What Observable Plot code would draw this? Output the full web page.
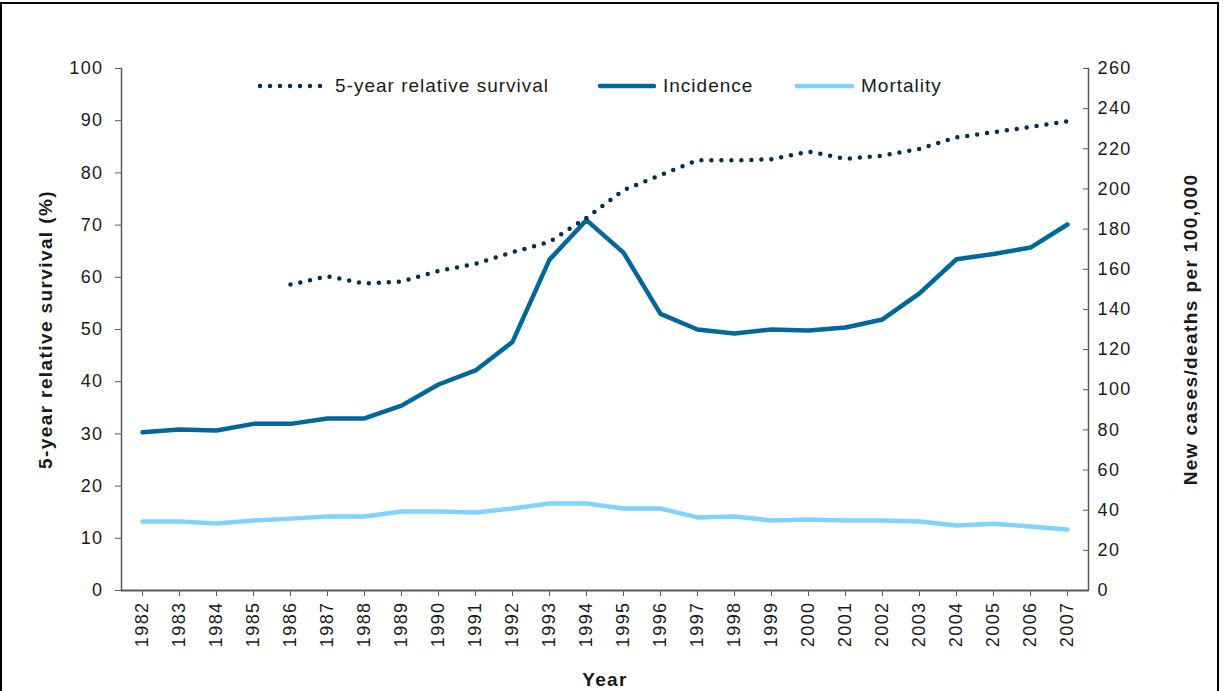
<!DOCTYPE html>
<html>
<head>
<meta charset="utf-8">
<script src="https://cdn.jsdelivr.net/npm/d3@7"></script>
<script src="https://cdn.jsdelivr.net/npm/@observablehq/plot@0.6"></script>
<style>
  html, body { margin: 0; padding: 0; background: #fff; }
  #wrap { position: relative; width: 1224px; height: 691px; overflow: hidden; font-family: "Liberation Sans", Arial, sans-serif; }
  #border { position: absolute; left: 0; top: 2px; width: 1219px; height: 720px; border: 2px solid #000; box-sizing: border-box; }
  #chart { position: absolute; left: 0; top: 0; }
  #chart svg text { letter-spacing: 1.4px; }
  #legend { position: absolute; left: 0; top: 0; width: 1224px; height: 100px; pointer-events: none; }
  .li { position: absolute; top: 75px; display: flex; align-items: center; font-size: 19px; color: #1a1a1a; letter-spacing: 1px; }
  .li svg { margin-right: 7px; }
</style>
</head>
<body>
<div id="wrap">
  <div id="border"></div>
  <div id="chart"></div>
  <div id="legend"></div>
</div>
<script>
// ---- Data ----
const years = ["1982","1983","1984","1985","1986","1987","1988","1989","1990","1991","1992","1993","1994","1995","1996","1997","1998","1999","2000","2001","2002","2003","2004","2005","2006","2007"];
const survival = [null, null, null, null, 58.6, 60.2, 58.8, 59.2, 61.2, 62.6, 64.8, 66.8, 71.4, 76.7, 79.6, 82.4, 82.4, 82.6, 84.1, 82.7, 83.3, 84.6, 86.8, 87.8, 88.8, 89.9];
const incidence = [78.8, 80.2, 79.7, 83.0, 83.0, 85.7, 85.7, 92.1, 102.6, 109.6, 123.8, 164.8, 184.5, 168.3, 137.8, 130.0, 128.0, 130.0, 129.5, 131.0, 135.0, 148.0, 165.0, 167.6, 170.8, 182.3];
const mortality = [34.4, 34.4, 33.4, 34.9, 35.8, 36.9, 36.9, 39.3, 39.3, 38.8, 40.8, 43.3, 43.3, 40.8, 40.8, 36.4, 36.9, 34.9, 35.4, 34.9, 34.9, 34.4, 32.4, 33.2, 31.9, 30.4];
const leftTicks = [0,10,20,30,40,50,60,70,80,90,100];
const rightTicks = [0,20,40,60,80,100,120,140,160,180,200,220,240,260];
const rightMax = 260;
const leftMax = 100;
const seriesNames = ["5-year relative survival", "Incidence", "Mortality"];
const colors = { survival: "#062e47", incidence: "#00689c", mortality: "#80d2ff" };
const leftTitle = "5-year relative survival (%)";
const rightTitle = "New cases/deaths per 100,000";
const xTitle = "Year";

// ---- Build tables ----
const toLeft = v => v * leftMax / rightMax;
const survRows = years.map((y, i) => ({ year: y, v: survival[i] }));
const incRows = years.map((y, i) => ({ year: y, v: toLeft(incidence[i]) }));
const morRows = years.map((y, i) => ({ year: y, v: toLeft(mortality[i]) }));
const axisColor = "#595959";

const chart = Plot.plot({
  width: 1224,
  height: 691,
  marginLeft: 121,
  marginRight: 136,
  marginTop: 68,
  marginBottom: 101,
  style: { fontFamily: "'Liberation Sans', Arial, sans-serif", fontSize: "18px", color: "#1a1a1a", background: "transparent", overflow: "visible" },
  x: { type: "point", domain: years, padding: 0.5 },
  y: { domain: [0, leftMax] },
  marks: [
    Plot.frame({ anchor: "left", stroke: axisColor, strokeWidth: 1.5 }),
    Plot.frame({ anchor: "right", stroke: axisColor, strokeWidth: 1.5 }),
    Plot.ruleY([0], { stroke: axisColor, strokeWidth: 2 }),
    Plot.axisY({ ticks: leftTicks, tickSize: 6, tickPadding: 12, label: null, stroke: axisColor, fontSize: 18 }),
    Plot.axisY({ anchor: "right", ticks: rightTicks.map(toLeft), tickFormat: d => String(Math.round(d * rightMax / leftMax)), tickSize: -6, tickPadding: 15, label: null, stroke: axisColor, fontSize: 18 }),
    Plot.axisX({ tickRotate: -90, tickSize: 6, tickPadding: 5, label: null, stroke: axisColor, fontSize: 18 }),
    Plot.text([leftTitle], { frameAnchor: "left", textAnchor: "middle", rotate: -90, dx: -76, fontWeight: "bold", fontSize: 19 }),
    Plot.text([rightTitle], { frameAnchor: "right", textAnchor: "middle", rotate: -90, dx: 102, fontWeight: "bold", fontSize: 19 }),
    Plot.text([xTitle], { frameAnchor: "bottom", dy: 95, fontWeight: "bold", fontSize: 19 }),
    Plot.lineY(morRows, { x: "year", y: "v", stroke: colors.mortality, strokeWidth: 4.5 }),
    Plot.lineY(incRows, { x: "year", y: "v", stroke: colors.incidence, strokeWidth: 4.5 }),
    Plot.lineY(survRows, { x: "year", y: "v", defined: d => d.v != null, stroke: colors.survival, strokeWidth: 4.5, strokeDasharray: "0 10", strokeLinecap: "round" })
  ]
});
document.getElementById("chart").appendChild(chart);

// ---- Legend ----
const legendItems = [
  { name: seriesNames[0], color: colors.survival, dash: "0 10", left: 258, w: 70 },
  { name: seriesNames[1], color: colors.incidence, dash: null, left: 598, w: 58 },
  { name: seriesNames[2], color: colors.mortality, dash: null, left: 795, w: 59 }
];
const leg = document.getElementById("legend");
for (const it of legendItems) {
  const d = document.createElement("div");
  d.className = "li";
  d.style.left = it.left + "px";
  d.innerHTML = `<svg width="${it.w}" height="8"><line x1="2" y1="4" x2="${it.w - 2}" y2="4" stroke="${it.color}" stroke-width="4.5" stroke-linecap="round" ${it.dash ? `stroke-dasharray="${it.dash}"` : ""}/></svg><span>${it.name}</span>`;
  leg.appendChild(d);
}
</script>
</body>
</html>
